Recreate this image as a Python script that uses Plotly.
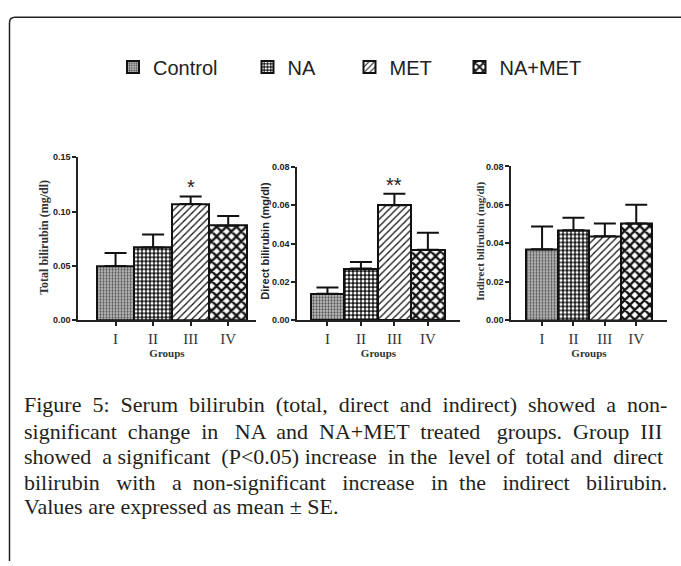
import plotly.graph_objects as go

W, H = 681, 566

groups = ["I", "II", "III", "IV"]
series_names = ["Control", "NA", "MET", "NA+MET"]

total_mean = [0.050, 0.067, 0.107, 0.087]
total_se = [0.012, 0.012, 0.007, 0.009]
direct_mean = [0.0137, 0.0269, 0.0601, 0.0368]
direct_se = [0.0033, 0.0034, 0.0059, 0.0089]
indirect_mean = [0.0368, 0.0467, 0.0436, 0.0503]
indirect_se = [0.0119, 0.0066, 0.0067, 0.0097]

total_ticks = [0.00, 0.05, 0.10, 0.15]
total_ticklabels = ["0.00", "0.05", "0.10", "0.15"]
small_ticks = [0.00, 0.02, 0.04, 0.06, 0.08]
small_ticklabels = ["0.00", "0.02", "0.04", "0.06", "0.08"]

NB = "\u00a0"
caption_lines = [
    "Figure 5: Serum bilirubin (total, direct and indirect) showed a non-",
    "significant change in NA and NA+MET treated groups. Group III",
    "showed a significant (P<0.05) increase in the level of total and direct",
    "bilirubin with a non-significant increase in the indirect bilirubin.",
    "Values are expressed as mean ± SE.",
]
# number of extra non-breaking spaces spread over each line's gaps (imitates justified text)
caption_extra = [10, 11, 6, 14, 0]


def px(x):
    return x / W


def py(y):
    return 1 - y / H


def justify(txt, extra):
    words = txt.split(" ")
    gaps = len(words) - 1
    if extra <= 0 or gaps <= 0:
        return txt
    out = words[0]
    acc = 0.0
    given = 0
    for j in range(gaps):
        acc += extra / gaps
        n = int(round(acc)) - given
        given += n
        out += " " + NB * n + words[j + 1]
    return out


patterns = [
    dict(shape=".", size=3, solidity=0.45, fgcolor="#555555", bgcolor="#c4c4c4", fillmode="replace"),
    dict(shape=".", size=4, solidity=0.45, fgcolor="#ffffff", bgcolor="#1a1a1a", fillmode="replace"),
    dict(shape="/", size=5, solidity=0.25, fgcolor="#111111", bgcolor="#ffffff", fillmode="replace"),
    dict(shape="x", size=7, solidity=0.55, fgcolor="#111111", bgcolor="#ffffff", fillmode="replace"),
]

fig = go.Figure()

panels = [
    (total_mean, total_se, "x", "y"),
    (direct_mean, direct_se, "x2", "y2"),
    (indirect_mean, indirect_se, "x3", "y3"),
]
legend_ids = ["legend", "legend2", "legend3", "legend4"]

for p, (means, ses, xa, ya) in enumerate(panels):
    for i, g in enumerate(groups):
        fig.add_trace(go.Bar(
            x=[g], y=[means[i]],
            name=series_names[i],
            xaxis=xa, yaxis=ya,
            width=1.0,
            marker=dict(color="#ffffff", pattern=patterns[i],
                        line=dict(color="#111111", width=2)),
            error_y=dict(type="data", symmetric=False, array=[ses[i]],
                         arrayminus=[0], color="#111111", thickness=2, width=11),
            showlegend=(p == 0),
            legend=legend_ids[i],
        ))

tick_font = dict(family="Liberation Sans, Arial, sans-serif", size=9, color="#222", weight="bold")
cat_font = dict(family="Liberation Serif, Times New Roman, serif", size=15, color="#333")
groups_font = dict(family="Liberation Serif, Times New Roman, serif", size=11, color="#333")


def xaxis(domain, rng, anchor):
    return dict(domain=domain, range=rng, anchor=anchor, type="category",
                categoryorder="array", categoryarray=groups,
                showline=True, linecolor="#222", linewidth=1.5,
                ticks="outside", ticklen=4, tickcolor="#222", tickwidth=1.5,
                tickfont=cat_font, showgrid=False, zeroline=False,
                title=dict(text="<b>Groups</b>", font=groups_font, standoff=3))


def yaxis(domain, rng, tv, tt, anchor):
    return dict(domain=domain, range=rng, anchor=anchor,
                tickvals=tv, ticktext=tt,
                showline=True, linecolor="#222", linewidth=1.5,
                ticks="outside", ticklen=4, tickcolor="#222", tickwidth=1.5,
                tickfont=tick_font, showgrid=False, zeroline=False)


legend_common = dict(orientation="h", yanchor="middle", y=py(63), xanchor="left",
                     font=dict(family="Liberation Sans, Arial, sans-serif",
                               size=20, color="#222"),
                     bgcolor="rgba(0,0,0,0)")

fig.update_layout(
    width=W, height=H,
    margin=dict(l=0, r=0, t=0, b=0),
    paper_bgcolor="white", plot_bgcolor="white",
    barmode="overlay", bargap=0,
    xaxis=xaxis([px(78), px(256)], [-1.0, 3.74], "y"),
    yaxis=yaxis([py(321), py(155)], [0, 0.15], total_ticks, total_ticklabels, "x"),
    xaxis2=xaxis([px(297), px(460)], [-0.91, 3.96], "y2"),
    yaxis2=yaxis([py(320.7), py(165)], [0, 0.08], small_ticks, small_ticklabels, "x2"),
    xaxis3=xaxis([px(511), px(667)], [-0.99, 3.98], "y3"),
    yaxis3=yaxis([py(320.7), py(164.3)], [0, 0.08], small_ticks, small_ticklabels, "x3"),
    legend=dict(legend_common, x=px(113)),
    legend2=dict(legend_common, x=px(247.5)),
    legend3=dict(legend_common, x=px(349.5)),
    legend4=dict(legend_common, x=px(459.5)),
    showlegend=True,
)

# y-axis titles
ytitles = [
    ("<b>Total bilirubin (mg/dl)</b>", 44, 237,
     dict(family="Liberation Serif, Times New Roman, serif", size=12, color="#333")),
    ("<b>Direct bilirubin (mg/dl)</b>", 265, 240,
     dict(family="Liberation Sans, Arial, sans-serif", size=11, color="#222")),
    ("<b>Indirect bilirubin (mg/dl)</b>", 481, 241,
     dict(family="Liberation Serif, Times New Roman, serif", size=11, color="#333")),
]
for txt, xx, yy, f in ytitles:
    fig.add_annotation(x=px(xx), y=py(yy), xref="paper", yref="paper", text=txt,
                       textangle=-90, showarrow=False, xanchor="center", yanchor="middle",
                       font=f)

# significance stars
star_font = dict(family="Liberation Sans, Arial, sans-serif", size=20, color="#222")
fig.add_annotation(x="III", y=total_mean[2] + total_se[2], xref="x", yref="y",
                   text="*", showarrow=False, yanchor="bottom", yshift=-4, font=star_font)
fig.add_annotation(x="III", y=direct_mean[2] + direct_se[2], xref="x2", yref="y2",
                   text="**", showarrow=False, yanchor="bottom", yshift=-4, font=star_font)

# caption
cap_font = dict(family="Liberation Serif, Times New Roman, serif", size=22, color="#231f20")
cap_y = [407, 434, 460, 486, 511]
for txt, extra, yy in zip(caption_lines, caption_extra, cap_y):
    fig.add_annotation(x=px(22), y=py(yy), xref="paper", yref="paper",
                       text=justify(txt, extra), showarrow=False,
                       xanchor="left", yanchor="middle", font=cap_font)

# frame
frame_path = (f"M {px(9.5)},{py(566)} L {px(9.5)},{py(18)} "
              f"Q {px(9.5)},{py(12.5)} {px(15)},{py(12.5)} L {px(681)},{py(12.5)}")
fig.add_shape(type="path", path=frame_path, xref="paper", yref="paper",
              line=dict(color="#222", width=1.5))

post = ("document.body.style.margin='0';document.body.style.overflow='hidden';"
        "var gd=document.getElementById('{plot_id}');"
        "if(gd&&gd.parentElement){gd.parentElement.style.fontSize='0';"
        "gd.parentElement.style.lineHeight='0';}")
fig.write_html("out.html", post_script=post, config={"displayModeBar": False})
